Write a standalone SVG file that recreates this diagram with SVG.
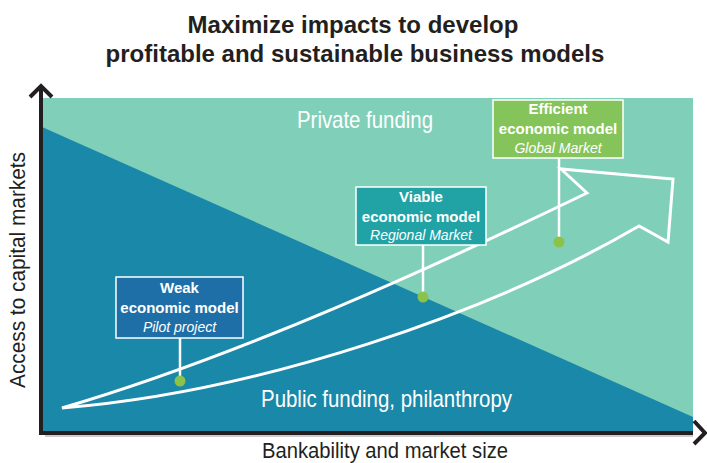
<svg xmlns="http://www.w3.org/2000/svg" width="707" height="463" viewBox="0 0 707 463">
  <style>
    .title { font-family: "Liberation Sans", Arial, sans-serif; font-weight: bold; font-size: 24px; fill: #231F20; text-anchor: middle; }
    .zone { font-family: "Liberation Sans", Arial, sans-serif; font-size: 24px; fill: #FFFFFF; }
    .axislabel { font-family: "Liberation Sans", Arial, sans-serif; font-size: 22px; fill: #231F20; }
    .box { stroke: #FFFFFF; stroke-width: 1.5; }
    .bname { font-family: "Liberation Sans", Arial, sans-serif; font-weight: bold; font-size: 15px; fill: #FFFFFF; text-anchor: middle; }
    .bsub { font-family: "Liberation Sans", Arial, sans-serif; font-style: italic; font-size: 14px; fill: #FFFFFF; text-anchor: middle; }
    .stem { stroke: #FFFFFF; stroke-width: 2.5; fill: none; }
    .dot { fill: #8BC34A; }
    .axis { stroke: #231F20; stroke-width: 4; fill: none; }
  </style>

  <!-- title -->
  <text class="title" x="353" y="33">Maximize impacts to develop</text>
  <text class="title" x="355" y="62">profitable and sustainable business models</text>

  <!-- chart areas -->
  <rect x="42" y="98" width="651" height="334" fill="#80D0B9"/>
  <polygon points="42,127 693,417 693,432 42,432" fill="#1A88A9"/>

  <text class="zone" x="297" y="128" textLength="136" lengthAdjust="spacingAndGlyphs">Private funding</text>
  <text class="zone" x="261" y="407" textLength="251" lengthAdjust="spacingAndGlyphs">Public funding, philanthropy</text>

  <!-- growth arrow -->
  <path d="M62,408 C240,356 440,264 587,193 L561,169 L673,179 L668,242 L639,226 C490,313 260,392 62,408 Z"
        fill="none" stroke="#FFFFFF" stroke-width="3" stroke-linejoin="miter"/>

  <!-- axes -->
  <line x1="45" y1="436" x2="693" y2="436" stroke="#BBBBBB" stroke-width="1.5"/>
  <path class="axis" d="M41,88 V433 H693"/>
  <path class="axis" d="M30,97 L41,86 L52,97"/>
  <path class="axis" d="M694,421 L705,433 L694,444"/>
  <text class="axislabel" x="262" y="458" textLength="246" lengthAdjust="spacingAndGlyphs">Bankability and market size</text>
  <text class="axislabel" font-size="20.5" transform="translate(25,388) rotate(-90)" textLength="236" lengthAdjust="spacingAndGlyphs">Access to capital markets</text>

  <!-- connectors: stems from labels to curve markers -->
  <g id="connectors">
    <line class="stem" x1="180" y1="338" x2="180" y2="381"/>
    <line class="stem" x1="423" y1="245" x2="423" y2="297"/>
    <line class="stem" x1="559" y1="158" x2="559" y2="242"/>
    <circle class="dot" cx="180" cy="381" r="5.5"/>
    <circle class="dot" cx="423" cy="297" r="5.5"/>
    <circle class="dot" cx="559" cy="242" r="5.5"/>
  </g>

  <g id="weak">
    <rect class="box" x="116" y="277" width="127" height="61" fill="#1E6FA7"/>
    <text class="bname" x="179.5" y="293">Weak</text>
    <text class="bname" x="179.5" y="313">economic model</text>
    <text class="bsub" x="179.5" y="332">Pilot project</text>
  </g>

  <g id="viable">
    <rect class="box" x="356" y="187" width="130" height="58" fill="#21A3A6"/>
    <text class="bname" x="421" y="202">Viable</text>
    <text class="bname" x="421" y="222">economic model</text>
    <text class="bsub" x="421" y="240">Regional Market</text>
  </g>

  <g id="efficient">
    <rect class="box" x="493" y="100" width="130" height="58" fill="#85C45A"/>
    <text class="bname" x="558" y="114">Efficient</text>
    <text class="bname" x="558" y="134">economic model</text>
    <text class="bsub" x="558" y="153">Global Market</text>
  </g>
</svg>
